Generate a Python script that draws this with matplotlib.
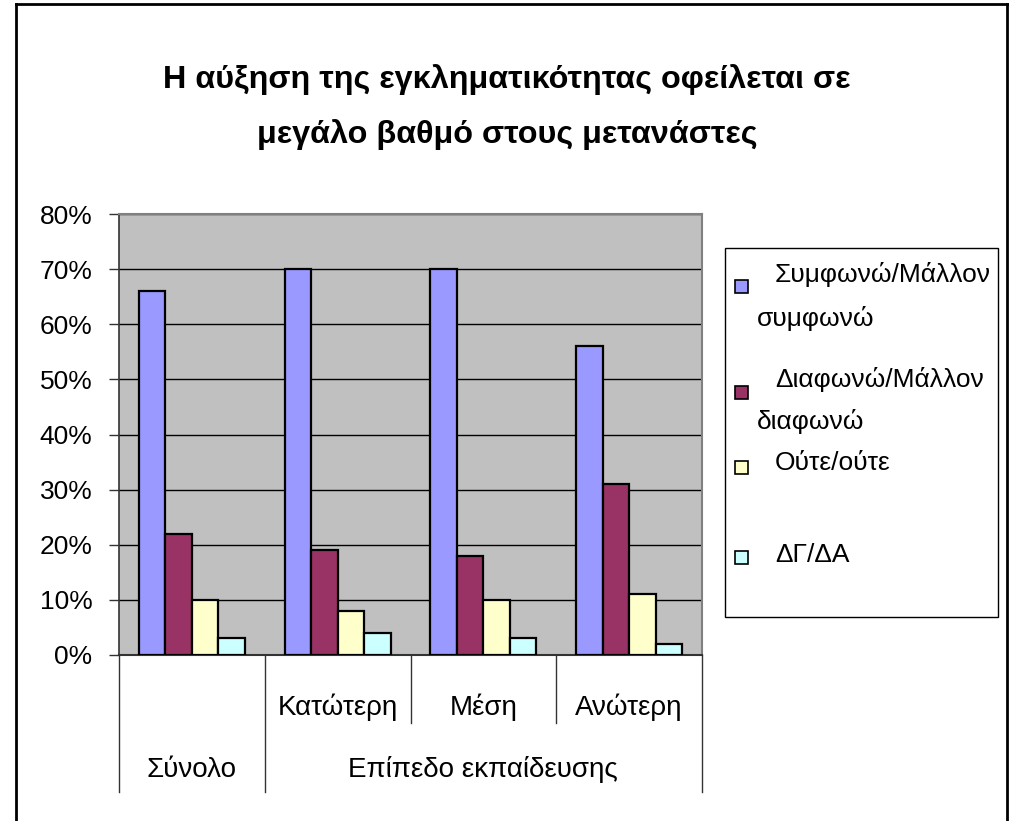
import matplotlib
matplotlib.use('Agg')
import matplotlib.pyplot as plt
from matplotlib.patches import Rectangle
from matplotlib.lines import Line2D
import numpy as np

# chart data
title = 'Η αύξηση της εγκληματικότητας οφείλεται σε\nμεγάλο βαθμό στους μετανάστες'
sub_labels = ['', 'Κατώτερη', 'Μέση', 'Ανώτερη']
parent_labels = ['Σύνολο', 'Επίπεδο εκπαίδευσης']
parent_spans = [(0, 0), (1, 3)]
series_names = ['Συμφωνώ/Μάλλον\nσυμφωνώ', 'Διαφωνώ/Μάλλον\nδιαφωνώ', 'Ούτε/ούτε', 'ΔΓ/ΔΑ']
agree = [66, 70, 70, 56]
disagree = [22, 19, 18, 31]
neither = [10, 8, 10, 11]
dont_know = [3, 4, 3, 2]
colors = ['#9999FF', '#993366', '#FFFFCC', '#CCFFFF']

plt.rcParams['font.family'] = ['Liberation Sans', 'DejaVu Sans']

W, H = 1011, 821
fig = plt.figure(figsize=(W / 100, H / 100), dpi=100)

def fx(px):
    return px / W

def fy(py):
    return 1 - py / H

ax = fig.add_axes([fx(119), fy(655), fx(702) - fx(119), fy(214) - fy(655)])
ax.set_facecolor('#C0C0C0')

x = np.arange(len(sub_labels))
bw = 0.182
for i, vals in enumerate([agree, disagree, neither, dont_know]):
    ax.bar(x + (i - 1.5) * bw, vals, width=bw, color=colors[i],
           edgecolor='black', linewidth=1.6, zorder=3)

ax.set_xlim(-0.5, len(sub_labels) - 0.5)
ax.set_ylim(0, 80)
ax.set_yticks(range(0, 81, 10))
ax.set_yticklabels([f'{v}%' for v in range(0, 81, 10)], fontsize=19)
ax.yaxis.grid(True, color='black', linewidth=1.0, zorder=1)
ax.tick_params(axis='y', length=7, width=1, color='#333333', pad=12)
ax.set_xticks([])
for s in ['top', 'right']:
    ax.spines[s].set_color('#808080')
    ax.spines[s].set_linewidth(1.5)
ax.spines['left'].set_color('#333333')
ax.spines['bottom'].set_color('#333333')
ax.spines['left'].set_linewidth(1.2)
ax.spines['bottom'].set_linewidth(1.5)

# hierarchical category axis
trans = ax.get_xaxis_transform()
outer_depth = (655 - 792) / 441
inner_depth = (655 - 723) / 441
bounds = np.arange(len(sub_labels) + 1) - 0.5
for b in bounds:
    is_outer = b in (-0.5, 0.5, len(sub_labels) - 0.5)
    ax.plot([b, b], [0, outer_depth if is_outer else inner_depth], color='#333333',
            linewidth=1, transform=trans, clip_on=False)
for xi, lab in zip(x, sub_labels):
    ax.text(xi, (655 - 715) / 441, lab, transform=trans, ha='center', va='baseline', fontsize=20)
for lab, (a, b) in zip(parent_labels, parent_spans):
    ax.text((a + b) / 2, (655 - 777) / 441, lab, transform=trans, ha='center', va='baseline', fontsize=20)

# title
fig.text(fx(507), fy(88), title.split('\n')[0], ha='center', va='baseline', fontsize=23.3,
         fontweight='bold')
fig.text(fx(507), fy(143), title.split('\n')[1], ha='center', va='baseline', fontsize=23.3,
         fontweight='bold')

# legend box drawn by hand to follow the original layout
fig.patches.append(Rectangle((fx(725), fy(617)), fx(998) - fx(725), fy(248) - fy(617),
                             transform=fig.transFigure, facecolor='white', edgecolor='black',
                             linewidth=1))
marker_y = [286, 392, 467, 557]
first_base = [282, 387, 470, 562]
second_base = [326, 429, None, None]
for name, c, my, b1, b2 in zip(series_names, colors, marker_y, first_base, second_base):
    fig.patches.append(Rectangle((fx(735), fy(my + 7)), fx(13), 13 / H,
                                 transform=fig.transFigure, facecolor=c, edgecolor='black',
                                 linewidth=1.2))
    lines = name.split('\n')
    fig.text(fx(775), fy(b1), lines[0], ha='left', va='baseline', fontsize=19)
    if b2 is not None:
        fig.text(fx(757), fy(b2), lines[1], ha='left', va='baseline', fontsize=19)

# outer chart frame
for xs, ys in [([16, 16], [4, H + 5]), ([16, 1007], [4, 4]), ([1007, 1007], [4, H + 5])]:
    fig.add_artist(Line2D([fx(v) for v in xs], [fy(v) for v in ys], color='black',
                          linewidth=2, transform=fig.transFigure))

fig.savefig('out.png', dpi=100, facecolor='white')
